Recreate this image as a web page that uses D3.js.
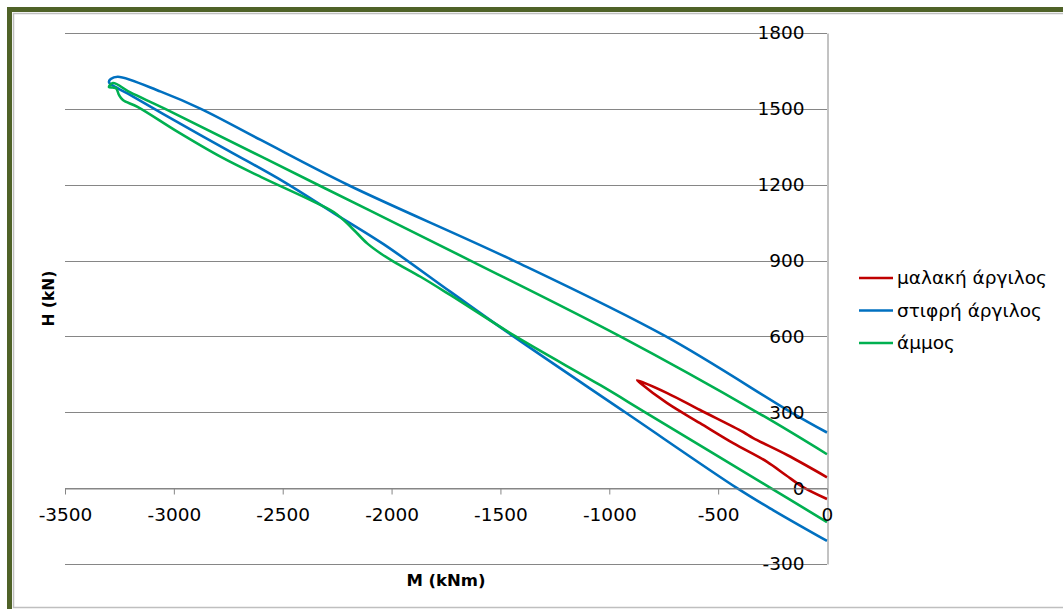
<!DOCTYPE html>
<html lang="el">
<head>
  <meta charset="UTF-8">
  <title>M-H</title>
  <style>
    body { margin: 0; background: #fff; overflow: hidden; }
    svg { display: block; }
    text { font-family: "DejaVu Sans", sans-serif; }
  </style>
</head>
<body>
  <svg></svg>
  <script src="https://cdn.jsdelivr.net/npm/d3@7/dist/d3.min.js"></script>
  <script>
    // series data (M in kNm, H in kN), traced along each loop
    var softClayM = [0, -183, -339, -385, -583, -734, -872, -858, -734, -583, -431, -275, -190, -110, 0]
    var softClayH = [43, 131, 198, 222, 309, 376, 427, 416, 336, 257, 178, 104, 52, 4, -43]

    var stiffClayM = [0, -165, -740, -1440, -2202, -2601, -2876, -3060, -3257, -3290, -3298, -3289, -3211, -3050, -2750, -2500, -2266, -2037, -1729, -1440, -927, -413, -248, 0]
    var stiffClayH = [220, 300, 600, 900, 1200, 1377, 1500, 1568, 1627, 1618, 1606, 1597, 1560, 1480, 1335, 1214, 1088, 965, 776, 600, 300, 0, -87, -209]

    var sandM = [0, -321, -950, -1638, -2339, -3040, -3200, -3280, -3298, -3266, -3252, -3234, -3167, -2982, -2784, -2601, -2372, -2266, -2188, -2112, -2050, -1989, -1867, -1729, -1430, -1041, -835, -258, 0]
    var sandH = [134, 300, 600, 900, 1200, 1500, 1565, 1602, 1586, 1582, 1555, 1535, 1508, 1409, 1310, 1231, 1139, 1092, 1034, 968, 928, 895, 836, 763, 600, 407, 300, 0, -134]

    var seriesNames = ["μαλακή άργιλος", "στιφρή άργιλος", "άμμος"]
    var seriesColors = ["#C00000", "#0070C0", "#00B050"]
    var xTicks = [-3500, -3000, -2500, -2000, -1500, -1000, -500, 0]
    var yTicks = [-300, 0, 300, 600, 900, 1200, 1500, 1800]

    var series = [
      { name: seriesNames[0], color: seriesColors[0], pts: d3.zip(softClayM, softClayH) },
      { name: seriesNames[1], color: seriesColors[1], pts: d3.zip(stiffClayM, stiffClayH) },
      { name: seriesNames[2], color: seriesColors[2], pts: d3.zip(sandM, sandH) }
    ]

    var width = 1063
    var height = 609
    var svg = d3.select("svg").attr("width", width).attr("height", height)

    // chart frame: only left/top of the olive border is inside the picture
    svg.append("path").attr("d", `M9.5,${height + 10} V9.5 H${width + 10}`)
      .attr("fill", "none").attr("stroke", "#4F6228").attr("stroke-width", 5)
    svg.append("path").attr("d", `M${width + 10},13.5 H13.5 V607.5 H${width + 10}`)
      .attr("fill", "none").attr("stroke", "#BFBFBF").attr("stroke-width", 1.5)

    var x = d3.scaleLinear().domain([-3500, 0]).range([65, 827])
    var y = d3.scaleLinear().domain([-300, 1800]).range([564, 33])
    var fmt = d => String(d)

    // gridlines
    svg.append("g").selectAll("line").data(yTicks).join("line")
      .attr("x1", x(-3500)).attr("x2", x(0))
      .attr("y1", d => Math.round(y(d)) + 0.5).attr("y2", d => Math.round(y(d)) + 0.5)
      .attr("stroke", "#868686").attr("stroke-width", 1)

    // series
    var line = d3.line()
      .x(d => x(d[0]))
      .y(d => y(d[1]))
      .curve(d3.curveCatmullRom.alpha(0.5))

    svg.append("g").selectAll("path").data(series).join("path")
      .attr("d", d => line(d.pts))
      .attr("fill", "none")
      .attr("stroke", d => d.color)
      .attr("stroke-width", 2.6)
      .attr("stroke-linejoin", "round")

    // y axis (at M = 0)
    var yAxis = svg.append("g")
      .attr("transform", `translate(${Math.round(x(0)) + 0.5},0)`)
      .call(d3.axisLeft(y).tickValues(yTicks).tickSize(0).tickPadding(23).tickFormat(fmt))
    yAxis.select(".domain").attr("stroke", "#868686")

    // x axis (at H = 0)
    var xAxis = svg.append("g")
      .attr("transform", `translate(0,${Math.round(y(0)) + 0.5})`)
      .call(d3.axisBottom(x).tickValues(xTicks).tickSize(6).tickSizeOuter(0).tickPadding(13).tickFormat(fmt))
    xAxis.select(".domain").attr("stroke", "#868686")
    xAxis.selectAll(".tick line").attr("stroke", "#868686")

    svg.selectAll(".tick text").attr("font-size", 18.5).attr("fill", "#000")
      .attr("font-family", "DejaVu Sans, sans-serif")

    // axis titles
    svg.append("text")
      .attr("x", (x(-3500) + x(0)) / 2).attr("y", 586)
      .attr("text-anchor", "middle").attr("font-weight", "bold").attr("font-size", 16.5)
      .text("M (kNm)")
    svg.append("text")
      .attr("transform", `translate(54,${(y(-300) + y(1800)) / 2}) rotate(-90)`)
      .attr("text-anchor", "middle").attr("font-weight", "bold").attr("font-size", 15.5)
      .text("H (kN)")

    // legend
    var legend = svg.append("g").selectAll("g").data(series).join("g")
      .attr("transform", (d, i) => `translate(859,${278 + i * 32.5})`)
    legend.append("line").attr("x1", 0).attr("x2", 34)
      .attr("stroke", d => d.color).attr("stroke-width", 2.6)
    legend.append("text").attr("x", 38).attr("dy", "0.35em")
      .attr("font-size", 18.5).text(d => d.name)
  </script>
</body>
</html>
